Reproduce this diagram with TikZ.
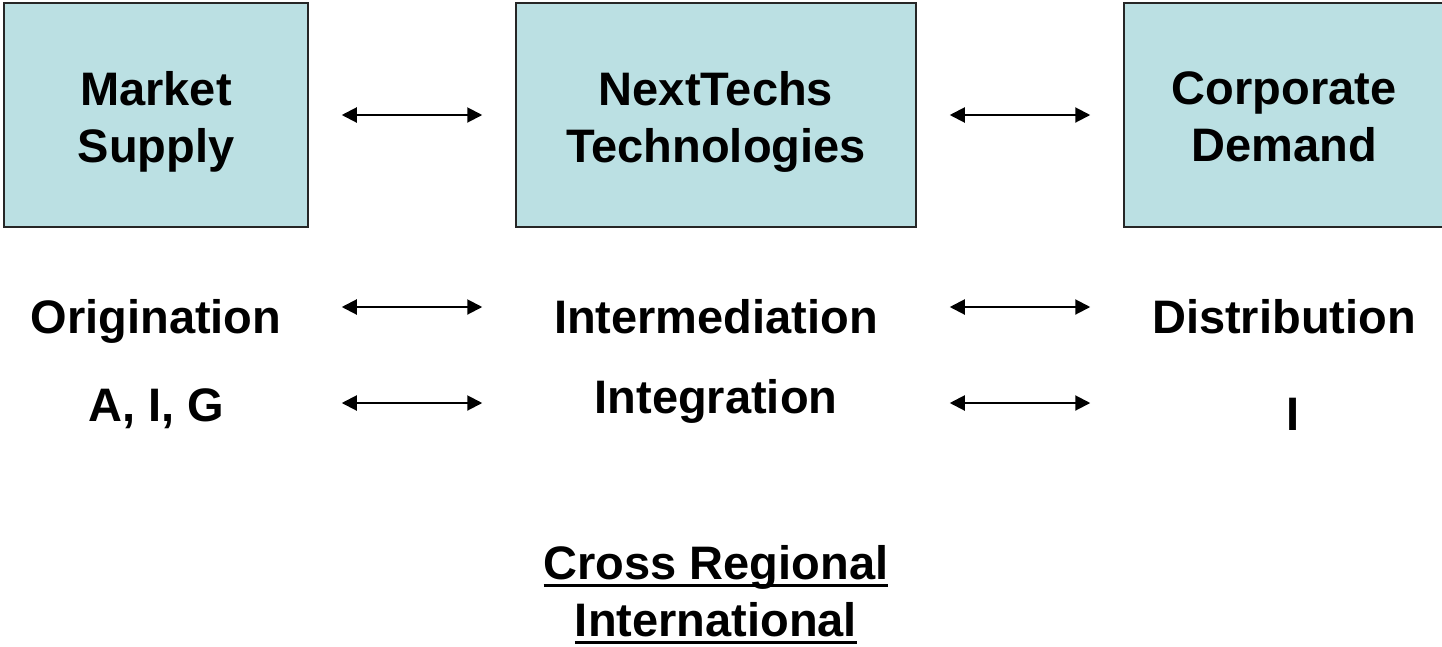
\documentclass[tikz,border=0pt]{standalone}
\usepackage{fontspec}
\setmainfont{Liberation Sans}
\usetikzlibrary{arrows.meta}
\definecolor{boxfill}{RGB}{187,224,227}
\newcommand\myul[1]{\setbox0\hbox{#1}\leavevmode\rlap{\smash{\rule[-7pt]{\wd0}{3pt}}}\box0}
\begin{document}
\begin{tikzpicture}[x=1pt,y=-1pt,
  lbl/.style={font=\fontsize{47}{57}\selectfont\bfseries, inner sep=0pt, align=center},
  box/.style={draw=black!85, line width=1.5pt, fill=boxfill, inner sep=0pt},
  link/.style={{Triangle[length=15pt,width=15pt]}-{Triangle[length=15pt,width=15pt]}, line width=2pt, shorten <=33pt, shorten >=33pt}]
\useasboundingbox (0,0) rectangle (1442,646);
\clip (0,0) rectangle (1442,646);
% boxes
\node[box, minimum width=304pt, minimum height=224pt] (b1) at (156,115) {};
\node[box, minimum width=400pt, minimum height=224pt] (b2) at (716,115) {};
\node[box, minimum width=320pt, minimum height=224pt] (b3) at (1284,115) {};
% box labels
\node[lbl] (t1) at (156,121.5) {Market\\Supply};
\node[lbl] (t2) at (716,121.5) {NextTechs\\Technologies};
\node[lbl] (t3) at (1284,116.7) {Corporate\\Demand};
% rows
\coordinate (r2) at (0,307);
\coordinate (r3) at (0,403);
\node[lbl, anchor=base] (o1) at (156,333) {Origination};
\node[lbl, anchor=base] (o2) at (716,333) {Intermediation};
\node[lbl, anchor=base] (o3) at (1284,333) {Distribution};
\node[lbl, anchor=base] (a1) at (156,421) {A, I, G};
\node[lbl, anchor=base] (a2) at (716,413) {Integration};
\node[lbl, anchor=base] (a3) at (1293,430) {I};
\node[lbl] (cr) at (716,591.5) {\myul{Cross Regional}\\\myul{International}};
% connectors
\draw[link] (b1.east) -- (b2.west);
\draw[link] (b2.east) -- (b3.west);
\draw[link] (b1.east |- r2) -- (b2.west |- r2);
\draw[link] (b2.east |- r2) -- (b3.west |- r2);
\draw[link] (b1.east |- r3) -- (b2.west |- r3);
\draw[link] (b2.east |- r3) -- (b3.west |- r3);
\end{tikzpicture}
\end{document}
